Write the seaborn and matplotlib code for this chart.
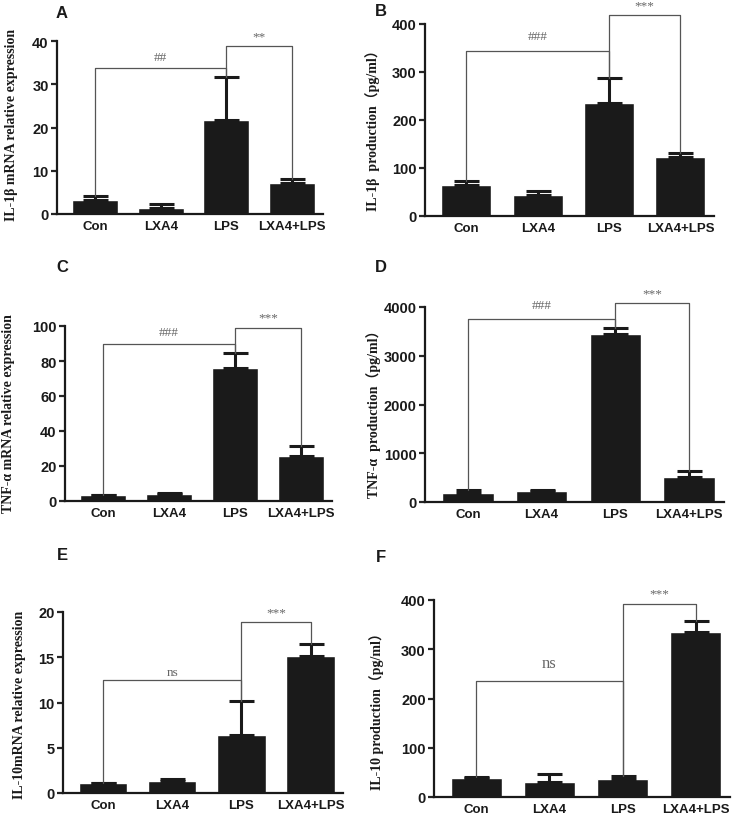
import seaborn as sns
import matplotlib.pyplot as plt
import pandas as pd

# groups on every x axis
groups = ['Con', 'LXA4', 'LPS', 'LXA4+LPS']

# bar heights and upper SEM
a_mean = [3.2, 1.5, 21.8, 7.2]
a_err = [0.9, 0.7, 9.9, 0.9]
b_mean = [64, 44, 236, 122]
b_err = [9, 9, 51, 9]
c_mean = [3.2, 4.0, 75.9, 26.0]
c_err = [0.3, 0.7, 8.5, 5.5]
d_mean = [191, 218, 3441, 511]
d_err = [61, 20, 123, 123]
e_mean = [1.07, 1.29, 6.43, 15.15]
e_err = [0.05, 0.31, 3.77, 1.35]
f_mean = [38.6, 29.8, 35.9, 335]
f_err = [2.4, 17.6, 6.7, 22]

# significance brackets: (left group, right group, bracket height, text, text height)
a_sig = [(0, 2, 33.7, '##', 36.2), (2, 3, 38.8, '**', 41.0)]
b_sig = [(0, 2, 344, '###', 376), (2, 3, 419, '***', 438)]
c_sig = [(0, 2, 89.6, '###', 96.6), (2, 3, 99, '***', 105)]
d_sig = [(0, 2, 3762, '###', 4034), (2, 3, 4089, '***', 4280)]
e_sig = [(0, 2, 12.46, 'ns', 13.4), (2, 3, 18.93, '***', 20.0)]
f_sig = [(0, 2, 234.9, 'ns', 273), (2, 3, 391, '***', 414)]

a_ticks = [0, 10, 20, 30, 40]
b_ticks = [0, 100, 200, 300, 400]
c_ticks = [0, 20, 40, 60, 80, 100]
d_ticks = [0, 1000, 2000, 3000, 4000]
e_ticks = [0, 5, 10, 15, 20]
f_ticks = [0, 100, 200, 300, 400]

sns.set_style('ticks')
plt.rcParams['font.family'] = ['Liberation Sans', 'DejaVu Sans']

W, H = 734, 820
fig = plt.figure(figsize=(W / 100, H / 100), dpi=100)

# panel: letter, label, means, errs, sig, ticks, axes box px (left, right, top, bottom), label px (x, y), letter px
panels = [
    ('A', 'IL-1β mRNA relative expression', a_mean, a_err, a_sig, a_ticks,
     (57, 323, 42, 215), (12, 125), (62, 13), 8),
    ('B', 'IL-1β  production（pg/ml）', b_mean, b_err, b_sig, b_ticks,
     (425, 714, 25, 217), (373, 127), (381, 12), 8),
    ('C', 'TNF-α mRNA relative expression', c_mean, c_err, c_sig, c_ticks,
     (65, 332, 327, 502), (9, 414), (62, 268), 8),
    ('D', 'TNF-α  production（pg/ml）', d_mean, d_err, d_sig, d_ticks,
     (425, 724, 308, 503), (374, 411), (381, 268), 8),
    ('E', 'IL-10mRNA relative expression', e_mean, e_err, e_sig, e_ticks,
     (63, 343, 613, 794), (20, 705), (62, 556), 9.5),
    ('F', 'IL-10 production（pg/ml）', f_mean, f_err, f_sig, f_ticks,
     (434, 730, 601, 798), (377, 708), (381, 557), 12),
]

for letter, label, mean, err, sig, ticks, box, lab, let_pos, ns_size in panels:
    l, r, t, b = box
    ax = fig.add_axes([l / W, 1 - b / H, (r - l) / W, (b - t) / H])
    df = pd.DataFrame({'group': groups, 'value': mean})
    sns.barplot(data=df, x='group', y='value', color='#1a1a1a', width=0.7,
                saturation=1, errorbar=None, ax=ax)
    ax.errorbar(range(len(groups)), mean, yerr=[[0] * len(err), err],
                fmt='none', ecolor='#1a1a1a', elinewidth=2.2, capsize=9,
                capthick=2.2, zorder=3)
    ax.set_xlim(-0.58, 3.47)
    ax.set_ylim(ticks[0], ticks[-1])
    ax.set_yticks(ticks)
    ax.set_xlabel('')
    ax.set_ylabel('')
    for s in ['top', 'right']:
        ax.spines[s].set_visible(False)
    for s in ['left', 'bottom']:
        ax.spines[s].set_linewidth(1.6)
        ax.spines[s].set_color('#1a1a1a')
    ax.tick_params(axis='y', length=4, width=1.6, labelsize=10.5, pad=2)
    ax.tick_params(axis='x', length=0, labelsize=9.5, pad=4)
    for tl in ax.get_xticklabels() + ax.get_yticklabels():
        tl.set_fontweight('bold')
        tl.set_color('#1a1a1a')

    tops = [m + e for m, e in zip(mean, err)]
    for i, j, h, txt, ty in sig:
        ax.plot([i, i, j, j], [tops[i], h, h, tops[j]], color='#555555',
                lw=0.9, clip_on=False, zorder=4)
        size = ns_size if txt == 'ns' else 9.5
        ax.text((i + j) / 2, ty, txt, ha='center', va='center', fontsize=size,
                color='#666666', family=['Liberation Serif', 'DejaVu Serif'],
                clip_on=False)

    fig.text(lab[0] / W, 1 - lab[1] / H, label, rotation=90, ha='center',
             va='center', fontsize=10, fontweight='bold', color='#1a1a1a',
             family=['Liberation Serif', 'Noto Sans CJK SC'])
    fig.text(let_pos[0] / W, 1 - let_pos[1] / H, letter, ha='center',
             va='center', fontsize=12, fontweight='bold', color='#1a1a1a')

fig.savefig('out.png', dpi=100)
